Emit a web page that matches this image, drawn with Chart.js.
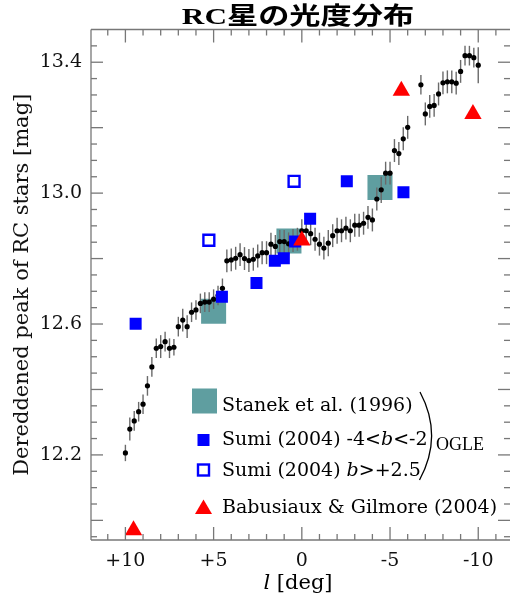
<!DOCTYPE html>
<html>
<head>
<meta charset="utf-8">
<script src="https://cdn.jsdelivr.net/npm/chart.js@4"></script>
<style>
  body { margin: 0; background: #fff; }
  canvas { display: block; }
</style>
</head>
<body>
<canvas id="rcChart" width="510" height="596"></canvas>
<script>
// OGLE のRCピーク (黒点 + 誤差棒)
const ogleL = [
  10.0, 9.75, 9.5, 9.25, 9.0, 8.75, 8.5, 8.25, 8.0, 7.75,
  7.5, 7.25, 7.0, 6.75, 6.5, 6.25, 6.0, 5.75, 5.5, 5.25,
  5.0, 4.75, 4.5, 4.25, 4.0, 3.75, 3.5, 3.25, 3.0, 2.75,
  2.5, 2.25, 2.0, 1.75, 1.5, 1.25, 1.0, 0.75, 0.5, 0.25,
  0.0, -0.25, -0.5, -0.75, -1.0, -1.25, -1.5, -1.75, -2.0, -2.25,
  -2.5, -2.75, -3.0, -3.25, -3.5, -3.75, -4.0, -4.25, -4.5, -4.75,
  -5.0, -5.25, -5.5, -5.75, -6.0, -6.75, -7.0, -7.25, -7.5, -7.75,
  -8.0, -8.25, -8.5, -8.75, -9.0, -9.25, -9.5, -9.75, -10.0
];
const ogleMag = [
  12.206, 12.279, 12.304, 12.332, 12.355, 12.411, 12.469, 12.526, 12.531, 12.546,
  12.526, 12.529, 12.592, 12.612, 12.592, 12.636, 12.643, 12.663, 12.667, 12.667,
  12.676, 12.687, 12.709, 12.793, 12.796, 12.801, 12.812, 12.800, 12.794, 12.798,
  12.808, 12.818, 12.818, 12.844, 12.837, 12.852, 12.852, 12.845, 12.855, 12.859,
  12.885, 12.885, 12.876, 12.859, 12.844, 12.832, 12.847, 12.870, 12.885, 12.885,
  12.893, 12.885, 12.902, 12.902, 12.908, 12.926, 12.918, 12.982, 13.010, 13.061,
  13.061, 13.130, 13.121, 13.166, 13.201, 13.331, 13.242, 13.265, 13.268, 13.303,
  13.337, 13.340, 13.340, 13.336, 13.372, 13.420, 13.420, 13.414, 13.391
];
const ogleErr = [
  0.025, 0.035, 0.03, 0.03, 0.03, 0.03, 0.03, 0.03, 0.035, 0.03,
  0.03, 0.025, 0.03, 0.035, 0.035, 0.03, 0.03, 0.03, 0.03, 0.03,
  0.03, 0.03, 0.03, 0.035, 0.035, 0.035, 0.035, 0.035, 0.035, 0.035,
  0.035, 0.035, 0.035, 0.035, 0.035, 0.035, 0.035, 0.035, 0.035, 0.035,
  0.035, 0.035, 0.035, 0.035, 0.035, 0.035, 0.04, 0.035, 0.04, 0.035,
  0.035, 0.035, 0.035, 0.035, 0.035, 0.035, 0.035, 0.035, 0.04, 0.035,
  0.035, 0.035, 0.035, 0.035, 0.035, 0.03, 0.035, 0.035, 0.035, 0.035,
  0.035, 0.035, 0.035, 0.035, 0.035, 0.03, 0.03, 0.03, 0.055
];

// Stanek et al. (1996)
const stanekL = [5.0, 0.73, -4.43];
const stanekMag = [12.639, 12.854, 13.017];

// Sumi (2004) -4<b<-2
const sumiSouthL = [9.42, 4.53, 2.57, 1.53, 1.02, 0.38, -0.47, -2.55, -5.76];
const sumiSouthMag = [12.601, 12.683, 12.725, 12.793, 12.801, 12.852, 12.922, 13.036, 13.003];

// Sumi (2004) b>+2.5
const sumiNorthL = [5.27, 0.44];
const sumiNorthMag = [12.856, 13.036];

// Babusiaux & Gilmore (2004)
const babusiauxL = [9.54, 0.0, -5.64, -9.70];
const babusiauxMag = [11.970, 12.855, 13.313, 13.242];

const xTickValues = [10, 5, 0, -5, -10];
const yTickValues = [12.2, 12.6, 13.0, 13.4];

const teal = '#5f9ea0';
const blue = '#0000ff';
const red = '#ff0000';
const serif = '"DejaVu Serif", serif';

function toPoints(xs, ys) {
  return xs.map((v, i) => ({ x: v, y: ys[i] }));
}

// 誤差棒 (黒点の下に描く)
const errorBars = {
  id: 'errorBars',
  beforeDatasetDraw(chart, args) {
    if (chart.data.datasets[args.index].label !== 'OGLE') return;
    const { ctx, scales: { x, y } } = chart;
    ctx.save();
    ctx.strokeStyle = '#6a6a6a';
    ctx.lineWidth = 1.4;
    ogleL.forEach((l, i) => {
      const err = ogleErr[i] ?? 0.035;
      const px = x.getPixelForValue(l);
      ctx.beginPath();
      ctx.moveTo(px, y.getPixelForValue(ogleMag[i] - err));
      ctx.lineTo(px, y.getPixelForValue(ogleMag[i] + err));
      ctx.stroke();
    });
    ctx.restore();
  }
};

// 枠と内向きの目盛り
const frameTicks = {
  id: 'frameTicks',
  afterDatasetsDraw(chart) {
    const { ctx, chartArea: a, scales: { x, y } } = chart;
    ctx.save();
    ctx.strokeStyle = '#777';
    ctx.lineWidth = 1.3;
    const seg = (x1, y1, x2, y2) => {
      ctx.beginPath();
      ctx.moveTo(x1, y1);
      ctx.lineTo(x2, y2);
      ctx.stroke();
    };
    seg(a.left, a.top, a.right, a.top);
    seg(a.left, a.bottom, a.right, a.bottom);
    seg(a.left, a.top, a.left, a.bottom);
    for (let l = -11; l <= 11; l++) {
      const px = x.getPixelForValue(l);
      const len = l % 5 === 0 ? 13 : 6;
      seg(px, a.bottom, px, a.bottom - len);
      seg(px, a.top, px, a.top + len);
    }
    for (let k = 239; k < 270; k++) {
      const py = y.getPixelForValue(k * 0.05);
      const len = k % 4 === 0 ? 12 : 6;
      seg(a.left, py, a.left + len, py);
      seg(a.right, py, a.right - len, py);
    }
    ctx.restore();
  }
};

function drawRich(ctx, x, y, parts, size) {
  let cx = x;
  parts.forEach(([text, italic]) => {
    ctx.font = (italic ? 'italic ' : '') + size + 'px ' + serif;
    ctx.fillText(text, cx, y);
    cx += ctx.measureText(text).width;
  });
}

// タイトル, x軸名, 凡例
const annotations = {
  id: 'annotations',
  afterDraw(chart) {
    const { ctx } = chart;
    ctx.save();
    ctx.fillStyle = '#000';

    ctx.save();
    ctx.translate(298, 18);
    ctx.scale(1.3, 1);
    ctx.font = 'bold 24px "Liberation Serif", "Noto Sans CJK JP"';
    ctx.textAlign = 'center';
    ctx.textBaseline = 'middle';
    ctx.fillText('RC星の光度分布', 0, 0);
    ctx.restore();

    ctx.textBaseline = 'alphabetic';
    ctx.textAlign = 'left';
    ctx.font = 'italic 21px ' + serif;
    const w1 = ctx.measureText('l').width;
    ctx.font = '21px ' + serif;
    const w2 = ctx.measureText(' [deg]').width;
    drawRich(ctx, 298 - (w1 + w2) / 2, 589, [['l', true], [' [deg]', false]], 21);

    // 凡例
    ctx.fillStyle = teal;
    ctx.fillRect(192, 388.5, 25, 25);
    ctx.fillStyle = blue;
    ctx.fillRect(197.5, 434, 12, 12);
    ctx.strokeStyle = blue;
    ctx.lineWidth = 2.4;
    ctx.fillStyle = '#fff';
    ctx.fillRect(198, 464.5, 11, 11);
    ctx.strokeRect(198, 464.5, 11, 11);
    ctx.fillStyle = red;
    ctx.beginPath();
    ctx.moveTo(203.5, 499.5);
    ctx.lineTo(212, 514);
    ctx.lineTo(195, 514);
    ctx.closePath();
    ctx.fill();

    ctx.fillStyle = '#000';
    drawRich(ctx, 222, 410.5, [['Stanek et al. (1996)', false]], 19);
    drawRich(ctx, 222, 445, [['Sumi (2004) -4<', false], ['b', true], ['<-2', false]], 19);
    drawRich(ctx, 222, 476, [['Sumi (2004) ', false], ['b', true], ['>+2.5', false]], 19);
    drawRich(ctx, 222, 513, [['Babusiaux & Gilmore (2004)', false]], 19);

    ctx.strokeStyle = '#000';
    ctx.lineWidth = 1.3;
    ctx.beginPath();
    ctx.moveTo(420, 392);
    ctx.quadraticCurveTo(443.5, 436, 419.5, 480);
    ctx.stroke();
    ctx.font = '18px "Liberation Serif", serif';
    ctx.fillText('OGLE', 436, 450);
    ctx.restore();
  }
};

const ctx = document.getElementById('rcChart').getContext('2d');

new Chart(ctx, {
  type: 'scatter',
  data: {
    datasets: [
      {
        label: 'Babusiaux & Gilmore (2004)',
        data: toPoints(babusiauxL, babusiauxMag),
        pointStyle: 'triangle',
        pointRadius: 10,
        backgroundColor: red,
        borderWidth: 0,
        order: 0
      },
      {
        label: 'Sumi (2004) -4<b<-2',
        data: toPoints(sumiSouthL, sumiSouthMag),
        pointStyle: 'rect',
        pointRadius: 8.5,
        backgroundColor: blue,
        borderWidth: 0,
        order: 1
      },
      {
        label: 'Sumi (2004) b>+2.5',
        data: toPoints(sumiNorthL, sumiNorthMag),
        pointStyle: 'rect',
        pointRadius: 7.7,
        backgroundColor: '#fff',
        borderColor: blue,
        borderWidth: 2.4,
        order: 2
      },
      {
        label: 'OGLE',
        data: toPoints(ogleL, ogleMag),
        pointStyle: 'circle',
        pointRadius: 2.6,
        backgroundColor: '#000',
        borderWidth: 0,
        order: 3
      },
      {
        label: 'Stanek et al. (1996)',
        data: toPoints(stanekL, stanekMag),
        pointStyle: 'rect',
        pointRadius: 17.7,
        backgroundColor: teal,
        borderWidth: 0,
        order: 4
      }
    ]
  },
  options: {
    responsive: false,
    animation: false,
    devicePixelRatio: 1,
    events: [],
    layout: {
      autoPadding: false,
      padding: { top: 29.5, right: 0, bottom: 0, left: 0 }
    },
    plugins: {
      legend: { display: false },
      tooltip: { enabled: false },
      title: { display: false }
    },
    scales: {
      x: {
        type: 'linear',
        reverse: true,
        min: -11.8,
        max: 11.95,
        afterBuildTicks: s => { s.ticks = xTickValues.map(v => ({ value: v })); },
        afterFit: s => {
          s.height = 56;
          s.paddingLeft = 0;
          s.paddingRight = 0;
        },
        grid: { display: false, drawTicks: false },
        border: { display: false },
        ticks: {
          autoSkip: false,
          maxRotation: 0,
          padding: 10,
          color: '#111',
          font: { family: 'DejaVu Serif', size: 19 },
          callback: v => (v > 0 ? '+' + v : String(v))
        }
      },
      y: {
        type: 'linear',
        min: 11.94,
        max: 13.5,
        afterBuildTicks: s => { s.ticks = yTickValues.map(v => ({ value: v })); },
        afterFit: s => {
          s.width = 91;
          s.paddingTop = 0;
          s.paddingBottom = 0;
        },
        grid: { display: false, drawTicks: false },
        border: { display: false },
        ticks: {
          autoSkip: false,
          padding: 9,
          color: '#111',
          font: { family: 'DejaVu Serif', size: 19 },
          callback: v => Number(v).toFixed(1)
        },
        title: {
          display: true,
          text: 'Dereddened peak of RC stars [mag]',
          color: '#111',
          font: { family: 'DejaVu Serif', size: 21 },
          padding: { top: 10, bottom: 0 }
        }
      }
    }
  },
  plugins: [errorBars, frameTicks, annotations]
});
</script>
</body>
</html>
